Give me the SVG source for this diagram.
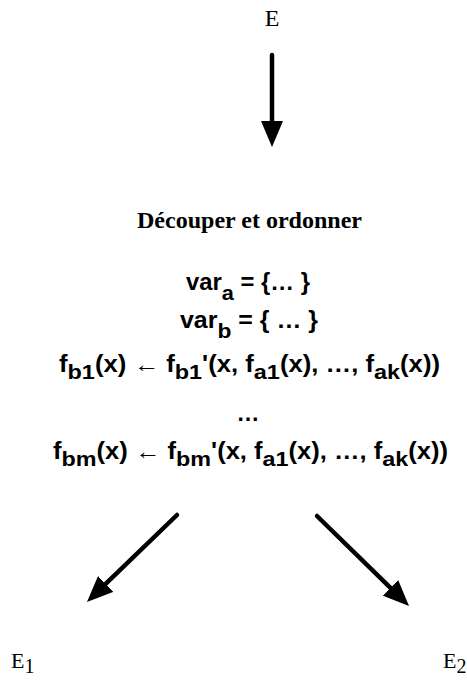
<svg xmlns="http://www.w3.org/2000/svg" width="467" height="681" viewBox="0 0 467 681">
<style>
.lbl{font-family:"Liberation Serif","Times New Roman",serif;fill:#000}
.title{font-family:"Liberation Serif","Times New Roman",serif;font-weight:bold;font-size:24px;fill:#000}
.f{font-family:"Liberation Sans",Arial,sans-serif;font-weight:bold;font-size:23px;fill:#000}
.sub{font-size:21px}
.conn{stroke:#000;stroke-width:4.5;fill:none;stroke-linecap:round}
</style>
<defs>
<marker id="ah" viewBox="0 0 26 22" refX="4" refY="11" markerWidth="26" markerHeight="22" markerUnits="userSpaceOnUse" orient="auto">
<path d="M0,0 L26,11 L0,22 z" fill="#000"/>
</marker>
</defs>
<rect width="467" height="681" fill="#fff"/>
<g id="E">
<text class="lbl" x="272" y="26" font-size="24" text-anchor="middle">E</text>
</g>
<g id="process">
<text class="title" x="137" y="228" textLength="225" lengthAdjust="spacingAndGlyphs">Découper et ordonner</text>
<text class="f" x="186" y="290" textLength="124" lengthAdjust="spacingAndGlyphs">var<tspan class="sub" dy="10">a</tspan><tspan dy="-10"> = {… }</tspan></text>
<text class="f" x="180" y="328" textLength="138" lengthAdjust="spacingAndGlyphs">var<tspan class="sub" dy="10">b</tspan><tspan dy="-10"> = { … }</tspan></text>
<text class="f" x="59" y="372" textLength="381" lengthAdjust="spacingAndGlyphs">f<tspan class="sub" dy="7">b1</tspan><tspan dy="-7">(x) ← f</tspan><tspan class="sub" dy="7">b1</tspan><tspan dy="-7">'(x, f</tspan><tspan class="sub" dy="7">a1</tspan><tspan dy="-7">(x), …, f</tspan><tspan class="sub" dy="7">ak</tspan><tspan dy="-7">(x))</tspan></text>
<text class="f" x="248" y="421" text-anchor="middle">…</text>
<text class="f" x="53" y="459" textLength="395" lengthAdjust="spacingAndGlyphs">f<tspan class="sub" dy="7">bm</tspan><tspan dy="-7">(x) ← f</tspan><tspan class="sub" dy="7">bm</tspan><tspan dy="-7">'(x, f</tspan><tspan class="sub" dy="7">a1</tspan><tspan dy="-7">(x), …, f</tspan><tspan class="sub" dy="7">ak</tspan><tspan dy="-7">(x))</tspan></text>
</g>
<g id="E1">
<text class="lbl" x="11" y="668" font-size="22">E<tspan dy="5" font-size="20">1</tspan></text>
</g>
<g id="E2">
<text class="lbl" x="443" y="668" font-size="22">E<tspan dy="5" font-size="20">2</tspan></text>
</g>
<g id="connectors">
<path class="conn" d="M272,55 L272,125" marker-end="url(#ah)"/>
<path class="conn" d="M177,515 L102.8,586.7" marker-end="url(#ah)"/>
<path class="conn" d="M317,516 L393.3,590.6" marker-end="url(#ah)"/>
</g>
</svg>
